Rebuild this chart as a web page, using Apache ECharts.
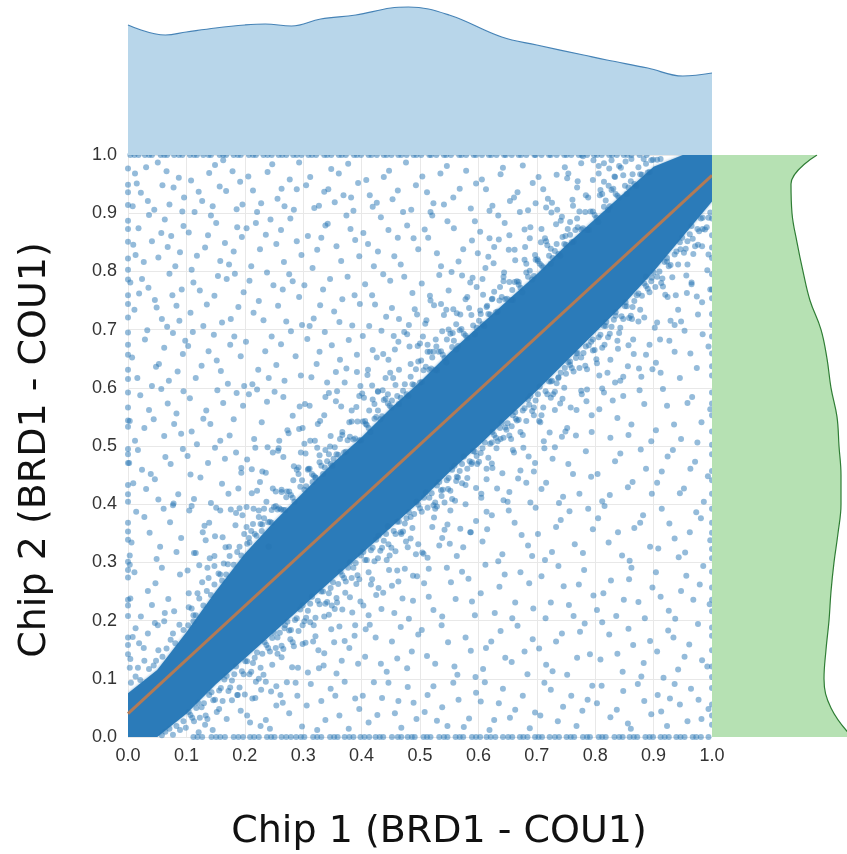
<!DOCTYPE html>
<html><head><meta charset="utf-8">
<script src="https://cdn.jsdelivr.net/npm/echarts@6/dist/echarts.min.js"></script>
<style>html,body{margin:0;padding:0;background:#fff}#c{width:847px;height:854px}</style>
</head><body><div id="c"></div>
<script>
// ---------- data ----------
const xTitle = 'Chip 1 (BRD1 - COU1)';
const yTitle = 'Chip 2 (BRD1 - COU1)';

// top marginal density (x position, density height)
const topDensX = [0, 0.064, 0.1, 0.15, 0.2, 0.235, 0.28, 0.33, 0.39, 0.45, 0.48, 0.55, 0.64, 0.70, 0.78, 0.82, 0.89, 0.95, 1.0];
const topDensV = [130, 120, 123, 127, 130, 131, 129, 136, 140, 147, 148, 140, 118, 110, 100, 95, 87, 79, 82];

// right marginal density (y position categories, density width)
const rightDensY = ['0.00','0.05','0.10','0.15','0.20','0.25','0.30','0.35','0.40','0.45','0.50','0.55','0.60','0.65','0.70','0.75','0.80','0.85','0.90','0.95','1.00'];
const rightDensV = [140, 119, 112, 114, 117, 119, 122, 126, 129, 129, 127, 125, 119, 115, 109, 98, 91, 85, 80, 79, 105];

// fitted line
const fitX = [0, 1];
const fitY = [0.04, 0.965];

// dense core band (solid region of overlapping points)
const bandX     = [0, 0.05, 0.1, 0.15, 0.2, 0.25, 0.3, 0.35, 0.4, 0.45, 0.5, 0.55, 0.6, 0.65, 0.7, 0.75, 0.8, 0.85, 0.9, 0.95, 1.0];
const bandUpper = [0.075, 0.115, 0.18, 0.25, 0.315, 0.37, 0.42, 0.47, 0.515, 0.565, 0.61, 0.66, 0.705, 0.75, 0.795, 0.845, 0.89, 0.935, 0.98, 1.0, 1.0];
const bandLower = [0, 0, 0.04, 0.09, 0.135, 0.18, 0.225, 0.27, 0.315, 0.36, 0.405, 0.455, 0.5, 0.548, 0.595, 0.645, 0.695, 0.745, 0.8, 0.86, 0.92];

// individual points, each "xxxyyy" = x and y in thousandths
const upperLeftPts = `
012968 034921 051987 078944 093903 022935 066972 045906 087961 008912 059948 031979 096927 071915 015951
018874 041852 063889 089833 027816 074861 052824 009846 095878 036897 081809 057866 013828 068842
024787 046751 071796 092769 011734 058718 083741 035772 067705 019762 049738 088715 004781 076759
029683 053641 077694 094658 016617 062669 041603 085628 007652 070612 033699 098681 048636
021587 044546 068573 091521 012509 057598 079538 036562 095594 003543 062517 028531 083556
017493 039452 064481 086417 009436 052408 073469 031426 094495 002471 046443 078401 024459
014387 037351 061392 083318 006334 049306 072369 028378 091342 003312 055327 077398
011283 034251 058291 079216 004238 047264 069237 022207 089279 003296 063213 041227
013187 027153 046196 008172 034178 062199 004134 019161 003119 051192
108956 127921 149983 168938 186907 114902 139969 157946 179972 196915 121937 145912 163991 192954
104867 132841 151883 173812 195859 118827 142896 166849 187876 109803 158818 137862 181834
112781 135743 154792 176718 198764 107729 129706 148758 169787 189739 123767 161712 183796
103672 126638 147691 171607 193654 116617 138663 159629 182688 199603 111696 152647 175674
106582 129547 153596 174518 197569 118503 141538 163574 186591 109525 134561 158509 181546
102483 124446 149497 172418 194462 113409 137471 161435 185489 107451 142402 166478 189427
105389 128352 151394 173327 196381 116316 139368 162343 184364 109397 133338 191393 148311
102286 119247 136291 158279 104223 127266 148294 112209 171297
206963 228917 247984 263942 284906 214939 239971 256925 277958 293987 221902 268912 289941
203874 226838 244889 267816 289852 211809 236863 254847 278891 297828 219883 262871
208784 224749 249776 271714 293756 215729 238798 257741 282783 298708 232716 265769 276795
202679 223631 246688 268612 287654 213606 235663 254639 279697 296621 241617 262675
207589 229541 251593 273527 294568 216512 238576 259509 282552 221597 266584 299531
204477 226438 248489 271412 292463 212419 236454 258496 283441 218497 263425 296489
203361 224389 241327 215392 233376 253397 208334 229354 262391 246368
305948 327913 348976 369931 386904 312962 336937 354919 377985 394952 319909 361968 382927 343941
308861 324837 342882 365818 389854 316806 338879 357843 374896 396826 331858 381873
302776 329742 346787 362713 388759 311706 334769 353731 376791 397744 318719 367752 384707
307684 323641 349673 371609 392657 314618 337696 356627 378682 398603 328662 363648 341609
303572 325538 344591 367519 391567 312509 336553 358594 379541 396586
304487 321446 338493 352478 309461 328472 346499 316438
408957 426918 447973 462939 485906 414931 438962 453924 476987 493948 419911 471902
403866 428834 446871 467812 489857 411847 433893 456826 478879 497838 421809 462858
406778 423743 449784 464718 487763 413706 437795 452737 473791 495726 418759 481708 442722
402689 426652 441617 463679 484641 411631 434698 457666 478692 496672 418604 449626
404583 422547 436596 452578 413561 428593 445589 407538
504963 523917 546981 568942 587908 512936 535968 557927 579973 596951 518902 541915
508872 529831 547886 566817 589853 514858 536809 558874 574838 594886 521896
503779 524742 549767 562709 586781 511716 533794 557735 578752 597773 517758 541725 569726
505688 521652 538697 513674 546683 528671 556694 502647 517662
606958 624913 642978 667936 685905 613941 638967 654921 676982 693952 619904 661927
603868 627842 645883 663819 688857 612806 634896 652837 679872 697828 619857
607787 624753 643791 658768 682798 615741 637773 669782 603733
703962 726918 748979 769944 784931 711941 735906 754968 776986 796957 719925 762913
708873 724839 741887 757863 716852 733881 702818 769891 749861
806968 823947 841981 862993 815986 834962 808931 828991 852989`;

const lowerRightPts = `
132021 156048 178063 145012 169031 187072 121008 193045
204037 228081 243014 265059 287093 213066 236029 254087 276041 298018 219095 261072
306054 324012 347083 362037 389066 313091 338029 355071 378014 396048 331062 371095
402071 427038 446093 468016 489059 412025 435067 457041 479086 494031 421094 463062
508043 523087 547019 566064 584032 513072 538051 557093 575017 596076 529028
604061 627029 642083 663047 688015 611094 635058 654033 676071 697042 619012
706037 724081 745052 768019 787064 713093 736027 759071 778045 795088
803058 826034 848079 861014 884062 811088 837047 856023 873091 896039
907072 923019 945056 964083 982031 913044 936091 958027 977064 994048 928066
232107 256143 278168 291119 247124 268187 284156 299192
304162 327118 348185 366131 388174 312197 336144 357109 379153 394126 321173
406138 424171 443112 467189 486147 414193 433126 452164 478118 497176 461135
503184 526126 548163 564107 587148 512139 537192 559121 578171 595103
608117 622164 646136 667191 684108 613153 638182 657129 679147 693168
704152 727113 743178 769136 782195 716124 733164 752107 774181 791142
809133 824176 847112 865158 883127 812197 838143 857186 879104 894165
906147 925183 942116 961159 983132 917102 934171 953138 976194 992121
336207 358231 372248 391263 384214 367219 349226
403226 418271 437248 456213 474289 488234 412209 429256 447287 463267 495276 481203
507264 523218 546291 561237 583272 594209 515241 538207 553266 572284 589233
604247 628213 645279 663231 687264 612296 636258 658204 672283 694221
708276 724231 746259 763208 781287 797243 715204 737294 755227 772262
803218 827269 849236 862291 885204 898257 814247 836208 858271 874232
904283 926217 947251 968236 985294 912241 937203 956277 979262 996228
428307 446331 467352 484378 493314 458319 476336
504317 521361 538342 552389 574326 596371 513308 529396 547365 563311 586352
607336 623381 641314 662368 685329 698394 615357 634302 652389 674347 692311
702349 726318 741373 765331 788392 714304 733361 756388 779316 796357
805376 823334 846312 867359 882381 894327 816397 839352 859303 877368
908324 927367 943309 962352 981376 997338 914392 936341 954317 973386
526403 548426 563447 581461 597483 537414 555409 572436 589472
605418 624462 643407 661489 682437 697471 614443 631496 653421 672458 689403
708426 727478 745413 762452 784491 716437 738402 754469 773418 793447
804452 825416 843487 864438 887461 812405 834474 856429 878494 897418
906437 924482 945419 963461 986404 914456 933493 952427 971473 993448
623506 648528 664547 687571 676519 695553 638512 657534
706541 724583 743516 768562 786597 712508 731562 752531 777589 794524
807563 826514 848586 862537 884572 896508 815592 838548 857519 876596
904527 923569 947512 966584 982541 997563 916598 935537 958574 975506
726612 748634 768659 784671 737618 757645 796683
807621 826648 843612 865683 887657 898632 816674 834609 856637 879619
904643 927681 945617 963659 984692 912626 936662 953698 974634 994671
818706 835724 852747 874762 887791 863718 896783 843703
906712 924756 942734 965781 983747 997769 915788 936708 957763 976726
923817 946838 967856 984873 994829 958812 976846`;

// fringe of points just above the dense band
const upperHaloPts = `
005093 013104 021098 028131 036117 044123 052149 059138 066152 073167 081161 088193 095184 017119 048131 077178
103192 109221 116209 122238 129226 135251 142244 148262 155281 161269 168279 174311 181296 187318 194312 199349 112199 138273 164298 191327
204332 211354 217349 224378 230365 237404 243370 250395 256391 263421 269390 276422 282411 289459 295430
302425 308459 315452 321446 328484 334452 341474 347469 354498 360485 367524 373490 380516 386511 393542 399510
406543 412531 419580 425550 432546 438579 445573 451566 458605 464572 471595 477589 484619 490605 497645
503610 510636 516631 523662 529630 536663 542651 549700 555670 562666 568699 575693 581686 588725 594692
601715 607709 614739 620726 627765 633731 640756 646752 653782 659751 666783 672772 679820 685791 692786 698820
705813 711807 718845 724813 731835 737830 744859 750846 757885 763851 770876 776872 783902 789871 796903
802892 809940 815911 822906 828940 835933 841927 848965 854933 861955 867950 874979 880966 887985 893971 899992 906992 912993
207342 214366 220346 227366 233392 240369 246390 253422 259393 266390 272422 279416 285404 292452 298441
305431 311461 318449 324497 331466 337463 344486 350466 357486 363512 370489 376510 383542 389513 396510
402542 409536 415524 422572 428561 435551 441581 448569 454617 461586 467583 474606 480586 487606 493632
500609 506630 513662 519633 526631 532662 539657 545644 552693 558681 565672 571701 578690 584737 591707 597703
604727 610706 617727 623752 630730 636750 643783 649753 656751 662782 669777 675764 682813 688801 695792
701821 708810 714857 721827 727823 734847 740827 747847 753873 760850 766871 773903 779874 786871 792903 799897
805885 812933 818922 825912 831942 838930 844978 851947 857944 864967 870947 877967 883993 890970 896991`;

// wider cloud of points above the band
const upperCloudPts = `
104247 113316 122295 131363 140307 149345 158389 167326 176391 185385 194454
203395 212460 221423 230456 239498 248427 257492 266481 275522 284465 293529
302504 311569 320509 329543 338584 347517 356577 365568 374633 383561 392627
401590 410622 419665 428594 437658 446648 455689 464631 473696 482671 491735
500676 509710 518750 527683 536744 545734 554799 563728 572793 581756 590789 599831
608760 617825 626814 635855 644798 653862 662837 671902 680842 689876 698917
707850 716910 725901 734966 743894 752960 761923 770955 779998 788927 797991
806981 815954 824977 833963`;

// fringe of points just below the dense band
const lowerHaloPts = `
058003 064009 071014 077004 083019 089012 095027 099016
104043 110033 117050 123033 130058 136031 143077 149064 156080 162062 169105 175085 182108 188072 195113
201130 208108 214127 221145 227119 234163 240153 247170 253153 260179 266151 273198 279184 286201 292182 299226
305205 312229 318192 325234 331250 338229 344247 351266 357239 364284 370273 377291 383273 390299 396271
403318 409304 416321 422302 429346 435325 442349 448312 455354 461370 468349 474367 481386 487359 494404
500393 507411 513394 520419 526392 533438 539425 546441 552423 559466 565446 572469 578433 585474 591491 598469
604488 611506 617480 624524 630514 637531 643514 650539 656512 663558 669545 676561 682543 689586 695566
702589 708553 715594 721611 728589 734608 741626 747600 754644 760634 767651 773634 780660 786632 793679 799665
806687 812669 819713 825693 832717 838681 845723 851740 858720 864739 871759 877734 884779 890770 897789
903773 910800 916774 923823 929811 936829 942812 949858 955839 962864 968830 975873 981891 988872 994892
107038 113027 120059 126051 133037 139072 146063 152043 159084 165099 172079 178097 185121 191085 198108
204130 211112 217136 224100 230143 237158 243147 250179 256171 263157 269192 276183 282163 289204 295219
302199 308217 315241 321205 328228 334250 341232 347256 354220 360263 367278 373267 380300 386291 393278 399312
406304 412283 419325 425339 432320 438337 445362 451325 458349 464370 471353 477376 484341 490383 497399
503387 510420 516411 523398 529432 536424 542403 549445 555459 562440 568457 575482 581445 588469 594490
601473 607496 614461 620504 627519 633508 640540 646532 653518 659553 666544 672524 679565 685580 692560 698578
705602 711566 718589 724611 731593 737617 744581 750624 757639 763628 770660 776652 783638 789673 796664
802649 809691 815706 822687 828705 835730 841694 848718 854740 861724 867749 874714 880758 887775 893764
900798 906791 913780 919816 926809 932790 939834 945850 952832 958852 965878 971843 978869 984892 991876 997901`;

// wider cloud of points below the band
const lowerCloudPts = `
200073 209025 218067 227019 236095 245078 254054 263137 272094 281120 290071 299160
308111 317164 326149 335123 344210 353163 362190 371165 380240 389192 398233
407185 416262 425244 434220 443304 452260 461286 470238 479326 488277 497331
506315 515289 524377 533329 542356 551332 560406 569358 578400 587352 596428
605411 614387 623470 632427 641453 650404 659493 668444 677497 686482 695456
704543 713496 722523 731498 740573 749525 758566 767518 776595 785577 794553
803642 812599 821626 830578 839667 848619 857673 866658 875633 884721 893674
902703 911683 920760 929715 938759 947714 956793 965778 974757 983843 992802`;

// points sitting on the borders (thousandths)
const bottomRowX = `112 127 143 158 166 181 197 209 224 238 251 263 279 288 302 317 331 346 359 371 386 398 413 424 437 452 468 479 491 506 518 533 547 561 574 589 603 614 629 642 658 671 684 697 709 722 738 751 764 779 791 806 818 833 847 859 872 886 899 912 926 939 953 967 981 994 119 151 189 216 245 271 296 324 353 379 405 431 462 486 512 541 568 596 621 651 677 703 731 758 786 812 841 866 893 919 946 973`;
const topRowX = `004 018 029 041 056 067 079 093 106 118 129 142 157 168 181 193 207 219 232 246 258 271 283 297 309 322 336 348 361 373 387 399 412 426 438 451 463 477 489 502 516 528 541 553 567 579 592 606 618 631 644 657 669 682 696 708 721 734 747 759 772 786 798 811 824 837 849 862 876 888 011 036 062 087 113 138 163 188 214 239 264 289 315 341 366 392 417 443 468 494 519 545 571 596 622 647 673 698 724 751 777 803 829 855`;
const leftColY = `142 171 208 236 274 301 339 368 404 433 471 495 533 566 592 631 657 695 721 759 786 822 851 887 914 949 977 158 226 287 353 417 486 544 615 674 744 803 873 936`;
const rightColY = `021 056 084 121 149 188 216 257 284 323 351 392 418 457 486 525 553 592 621 659 688 727 754 795 823 862 891 037 103 174 236 307 368 441 502 573 637 708 769 841`;

// ---------- build ----------
function parsePairs(s){ return s.trim().split(/\s+/).map(t => [ +t.slice(0,3)/1000, +t.slice(3,6)/1000 ]); }
function parseList(s){ return s.trim().split(/\s+/).map(t => +t/1000); }

const scatterData = []
  .concat(parsePairs(upperLeftPts))
  .concat(parsePairs(lowerRightPts))
  .concat(parsePairs(upperHaloPts))
  .concat(parsePairs(upperCloudPts))
  .concat(parsePairs(lowerHaloPts))
  .concat(parsePairs(lowerCloudPts))
  .concat(parseList(bottomRowX).map(x => [x, 0]))
  .concat(parseList(topRowX).map(x => [x, 1]))
  .concat(parseList(leftColY).map(y => [0, y]))
  .concat(parseList(rightColY).map(y => [1, y]));

const G = { left: 128, top: 155, width: 584, height: 582 };
const labelFont = '"Liberation Sans", Arial, sans-serif';
const titleFont = '"DejaVu Sans", Verdana, sans-serif';

const chart = echarts.init(document.getElementById('c'), null, { renderer: 'canvas' });
chart.setOption({
  animation: false,
  backgroundColor: '#ffffff',
  grid: [
    { left: G.left, top: G.top, width: G.width, height: G.height },
    { left: G.left, top: 5, width: G.width, height: 150 },
    { left: G.left + G.width, top: G.top, width: 135, height: G.height }
  ],
  xAxis: [
    { gridIndex: 0, type: 'value', min: 0, max: 1, interval: 0.1,
      axisLine: { show: false }, axisTick: { show: false },
      axisLabel: { margin: 10, fontSize: 18, color: '#333', fontFamily: labelFont, formatter: v => v.toFixed(1) },
      splitLine: { show: true, lineStyle: { color: '#e8e8e8', width: 1 } } },
    { gridIndex: 1, type: 'value', min: 0, max: 1, show: false },
    { gridIndex: 2, type: 'value', min: 0, max: 135, show: false }
  ],
  yAxis: [
    { gridIndex: 0, type: 'value', min: 0, max: 1, interval: 0.1,
      axisLine: { show: false }, axisTick: { show: false },
      axisLabel: { margin: 11, fontSize: 18, color: '#333', fontFamily: labelFont, formatter: v => v.toFixed(1) },
      splitLine: { show: true, lineStyle: { color: '#e8e8e8', width: 1 } } },
    { gridIndex: 1, type: 'value', min: 0, max: 150, show: false },
    { gridIndex: 2, type: 'category', data: rightDensY, boundaryGap: false, show: false }
  ],
  series: [
    {
      type: 'custom', xAxisIndex: 0, yAxisIndex: 0, z: 1, silent: true, clip: true,
      data: [[0, 0]],
      renderItem: function (params, api) {
        const pts = [];
        for (let i = 0; i < bandX.length; i++) pts.push(api.coord([bandX[i], bandUpper[i]]));
        for (let i = bandX.length - 1; i >= 0; i--) pts.push(api.coord([bandX[i], bandLower[i]]));
        return { type: 'polygon', shape: { points: pts },
          style: { fill: '#2b7bb9', shadowBlur: 3, shadowColor: 'rgba(43,123,185,0.6)' } };
      }
    },
    {
      type: 'scatter', xAxisIndex: 0, yAxisIndex: 0, z: 2, silent: true, clip: true,
      symbol: 'circle', symbolSize: 6, large: false,
      itemStyle: { color: 'rgba(38,118,180,0.62)' },
      data: scatterData
    },
    {
      type: 'line', xAxisIndex: 0, yAxisIndex: 0, z: 3, silent: true, symbol: 'none',
      lineStyle: { color: '#b27a55', width: 3 },
      data: fitX.map((x, i) => [x, fitY[i]])
    },
    {
      type: 'line', xAxisIndex: 1, yAxisIndex: 1, z: 4, silent: true, symbol: 'none', smooth: 0.4,
      lineStyle: { color: '#4683b6', width: 1.2 },
      areaStyle: { color: '#b8d6ea', opacity: 1 },
      data: topDensX.map((x, i) => [x, topDensV[i]])
    },
    {
      type: 'line', xAxisIndex: 2, yAxisIndex: 2, z: 4, silent: true, symbol: 'none', smooth: 0.4,
      lineStyle: { color: '#2f7d35', width: 1.2 },
      areaStyle: { color: '#b6e1b3', opacity: 1 },
      data: rightDensV
    }
  ],
  graphic: [
    { type: 'text', x: 439, y: 832, silent: true,
      style: { text: xTitle, font: '38px ' + titleFont, fill: '#111', align: 'center', verticalAlign: 'middle' } },
    { type: 'text', x: 35, y: 450, rotation: Math.PI / 2, silent: true,
      style: { text: yTitle, font: '38px ' + titleFont, fill: '#111', align: 'center', verticalAlign: 'middle' } }
  ]
});
</script>
</body></html>
